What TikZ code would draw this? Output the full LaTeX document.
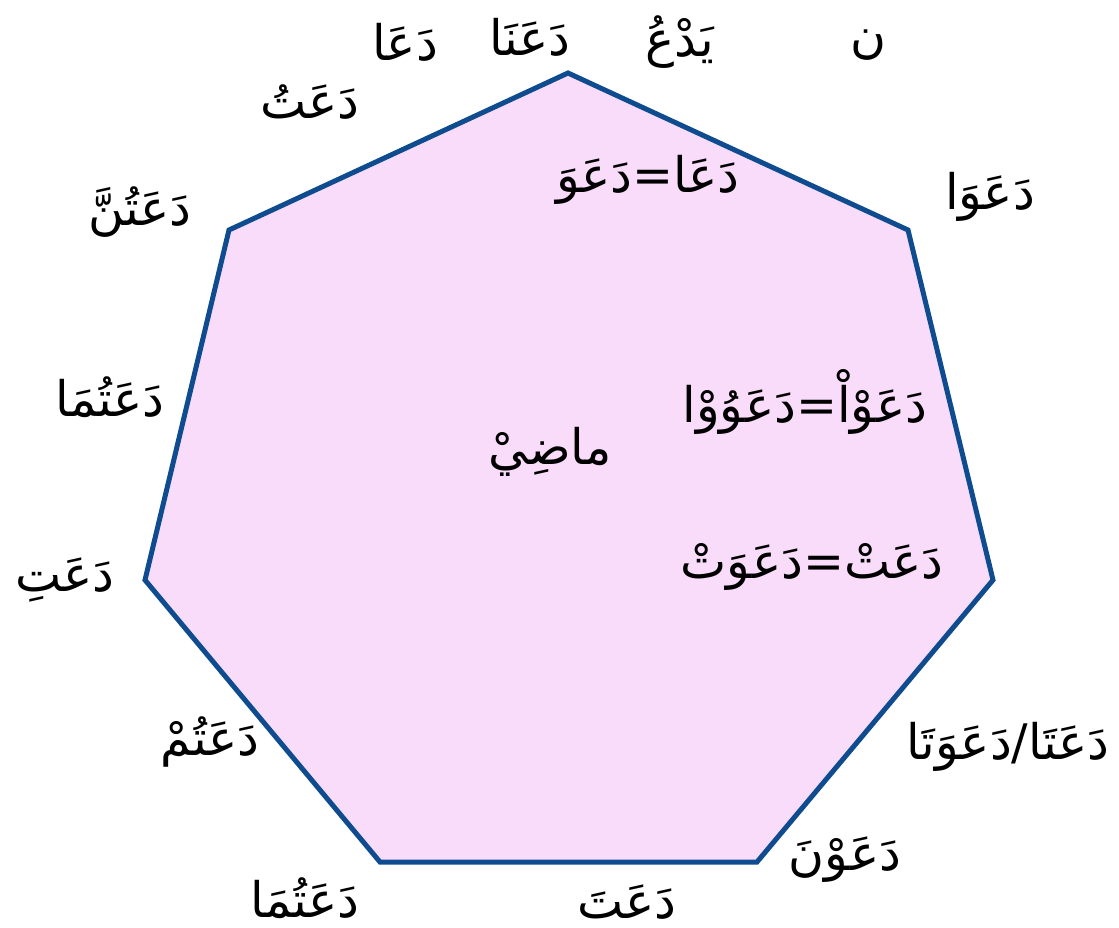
\documentclass[tikz,border=0pt]{standalone}
\usepackage{fontspec}
\newfontfamily\arabicfont[Script=Arabic]{DejaVu Sans}
\TeXXeTstate=1
\definecolor{polyfill}{HTML}{F8DCFA}
\definecolor{polyline}{HTML}{0F4C8F}
\tikzset{
  lbl/.style={font=\arabicfont\fontsize{49}{58}\selectfont, inner sep=0pt, anchor=center},
  poly/.style={draw=polyline, fill=polyfill, line width=5pt, line join=miter}
}
\newcommand{\ar}[1]{\beginR #1\endR}
\begin{document}
\begin{tikzpicture}[x=1pt,y=-1pt]
\useasboundingbox (0,0) rectangle (1119,927);
\coordinate (v1) at (568,73);
\coordinate (v2) at (908,230);
\coordinate (v3) at (993,580);
\coordinate (v4) at (757,862);
\coordinate (v5) at (380,862);
\coordinate (v6) at (145,580);
\coordinate (v7) at (229,230);
\draw[poly] (v1) -- (v2) -- (v3) -- (v4) -- (v5) -- (v6) -- (v7) -- cycle;

\node[lbl] (t1) at (405,42) {\ar{دَعَا}};
\node[lbl] (t2) at (530,37) {\ar{دَعَنَا}};
\node[lbl] (t3) at (680,42) {\ar{يَدْعُ}};
\node[lbl] (t4) at (868,45) {\ar{ن}};
\node[lbl] (t5) at (310,102) {\ar{دَعَتُ}};
\node[lbl] (t6) at (990,197) {\ar{دَعَوَا}};
\node[lbl] (t7) at (140,212) {\ar{دَعَتُنَّ}};
\node[lbl] (t8) at (110,397) {\ar{دَعَتُمَا}};
\node[lbl] (t9) at (65,580) {\ar{دَعَتِ}};
\node[lbl] (t10) at (210,742) {\ar{دَعَتُمْ}};
\node[lbl] (t11) at (305,898) {\ar{دَعَتُمَا}};
\node[lbl] (t12) at (627,902) {\ar{دَعَتَ}};
\node[lbl] (t13) at (845,860) {\ar{دَعَوْنَ}};
\node[lbl] (t14) at (1008,747) {\ar{دَعَتَا/دَعَوَتَا}};
\node[lbl] (c1) at (648,180) {\ar{دَعَا=دَعَوَ}};
\node[lbl] (c2) at (805,402) {\ar{دَعَوْاْ=دَعَوُوْا}};
\node[lbl] (c3) at (812,567) {\ar{دَعَتْ=دَعَوَتْ}};
\node[lbl] (c4) at (550,452) {\ar{ماضِيْ}};
\end{tikzpicture}
\end{document}
